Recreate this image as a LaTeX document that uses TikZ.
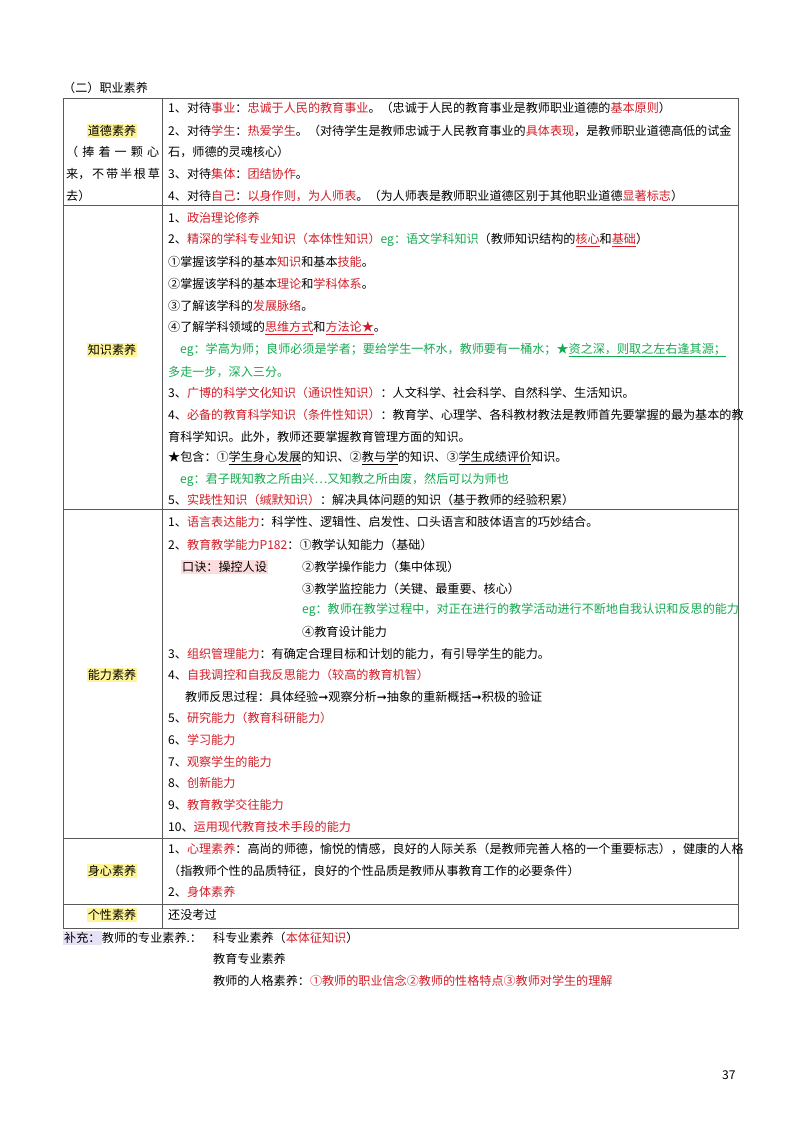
\documentclass[tikz,border=0pt]{standalone}
\usepackage{fontspec}
\setmainfont{Noto Sans CJK SC}
\newfontfamily\symfont{DejaVu Sans}
\usepackage{xcolor}
\definecolor{myred}{RGB}{210,30,40}
\definecolor{mygreen}{RGB}{20,170,80}
\definecolor{hlyellow}{RGB}{255,245,150}
\definecolor{hlpink}{RGB}{252,220,220}
\definecolor{hllav}{RGB}{230,225,245}
\newcommand{\rd}[1]{\textcolor{myred}{#1}}
\newcommand{\gr}[1]{\textcolor{mygreen}{#1}}
\newcommand{\ul}[1]{\underline{#1}}
\newcommand{\arr}{{\symfont ➞}}

\tikzset{
  ln/.style={anchor=west, inner sep=0pt},
  cat/.style={inner sep=1pt, fill=hlyellow},
}

\begin{document}
\begin{tikzpicture}[x=1pt, y=-1pt, font=\fontsize{12.1}{15}\selectfont]
  \useasboundingbox (0,0) rectangle (800,1130);
  \fill[white] (0,0) rectangle (800,1130);

  \node[ln] (title) at (63,88) {（二）职业素养};

  % table frame
  \draw[gray!70!black, line width=0.8pt] (63,98) rectangle (738,928);
  \draw[gray!70!black, line width=0.6pt] (162,98) -- (162,928);
  \draw[gray!70!black, line width=0.6pt] (63,205) -- (738,205);
  \draw[gray!70!black, line width=0.6pt] (63,509) -- (738,509);
  \draw[gray!70!black, line width=0.6pt] (63,838) -- (738,838);
  \draw[gray!70!black, line width=0.6pt] (63,904) -- (738,904);

  % left column
  \node[cat] (moral) at (112,131) {道德素养};
  \node[ln] (m1) at (66,152) {\makebox[93pt][s]{（ 捧 着 一 颗 心}};
  \node[ln] (m2) at (66,174) {\makebox[93pt][s]{来， 不 带 半 根 草}};
  \node[ln] (m3) at (66,196) {去）};
  \node[cat] (know) at (112,350) {知识素养};
  \node[cat] (abil) at (112,675) {能力素养};
  \node[cat] (body) at (112,871) {身心素养};
  \node[cat] (pers) at (112,915) {个性素养};

  % row 1
  \node[ln] (a1) at (168,108) {1、对待\rd{事业}：\rd{忠诚于人民的教育事业}。（忠诚于人民的教育事业是教师职业道德的\rd{基本原则}）};
  \node[ln] (a2) at (168,131) {2、对待\rd{学生}：\rd{热爱学生}。（对待学生是教师忠诚于人民教育事业的\rd{具体表现}，是教师职业道德高低的试金};
  \node[ln] (a3) at (168,152) {石，师德的灵魂核心）};
  \node[ln] (a4) at (168,174) {3、对待\rd{集体}：\rd{团结协作}。};
  \node[ln] (a5) at (168,196) {4、对待\rd{自己}：\rd{以身作则，为人师表}。（为人师表是教师职业道德区别于其他职业道德\rd{显著标志}）};

  % row 2
  \node[ln] (b1) at (168,218) {1、\rd{政治理论修养}};
  \node[ln] (b2) at (168,240) {2、\rd{精深的学科专业知识（本体性知识）}\gr{eg：语文学科知识}（教师知识结构的\rd{\ul{核心}}和\rd{\ul{基础}}）};
  \node[ln] (b3) at (168,262) {①掌握该学科的基本\rd{知识}和基本\rd{技能}。};
  \node[ln] (b4) at (168,284) {②掌握该学科的基本\rd{理论}和\rd{学科体系}。};
  \node[ln] (b5) at (168,306) {③了解该学科的\rd{发展脉络}。};
  \node[ln] (b6) at (168,328) {④了解学科领域的\rd{\ul{思维方式}}和\rd{\ul{方法论★}}。};
  \node[ln] (b7) at (180,350) {\gr{eg：学高为师；良师必须是学者；要给学生一杯水，教师要有一桶水；★\ul{资之深，则取之左右逢其源；}}};
  \node[ln] (b8) at (168,372) {\gr{多走一步，深入三分。}};
  \node[ln] (b9) at (168,393) {3、\rd{广博的科学文化知识（通识性知识）}：人文科学、社会科学、自然科学、生活知识。};
  \node[ln] (b10) at (168,415) {4、\rd{必备的教育科学知识（条件性知识）}：教育学、心理学、各科教材教法是教师首先要掌握的最为基本的教};
  \node[ln] (b11) at (168,437) {育科学知识。此外，教师还要掌握教育管理方面的知识。};
  \node[ln] (b12) at (168,458) {★包含：①\ul{学生身心发展}的知识、②\ul{教与学}的知识、③\ul{学生成绩评价}知识。};
  \node[ln] (b13) at (180,480) {\gr{eg：君子既知教之所由兴…又知教之所由废，然后可以为师也}};
  \node[ln] (b14) at (168,500) {5、\rd{实践性知识（缄默知识）}：解决具体问题的知识（基于教师的经验积累）};

  % row 3
  \node[ln] (c1) at (168,522) {1、\rd{语言表达能力}：科学性、逻辑性、启发性、口头语言和肢体语言的巧妙结合。};
  \node[ln] (c2) at (168,545) {2、\rd{教育教学能力P182}：①教学认知能力（基础）};
  \node[ln, fill=hlpink, inner sep=1pt] (c3k) at (181,567) {口诀：操控人设};
  \node[ln] (c3) at (302,567) {②教学操作能力（集中体现）};
  \node[ln] (c4) at (302,589) {③教学监控能力（关键、最重要、核心）};
  \node[ln] (c5) at (302,610) {\gr{eg：教师在教学过程中，对正在进行的教学活动进行不断地自我认识和反思的能力}};
  \node[ln] (c6) at (302,632) {④教育设计能力};
  \node[ln] (c7) at (168,654) {3、\rd{组织管理能力}：有确定合理目标和计划的能力，有引导学生的能力。};
  \node[ln] (c8) at (168,675) {4、\rd{自我调控和自我反思能力（较高的教育机智）}};
  \node[ln] (c9) at (185,697) {教师反思过程：具体经验\arr 观察分析\arr 抽象的重新概括\arr 积极的验证};
  \node[ln] (c10) at (168,718) {5、\rd{研究能力（教育科研能力）}};
  \node[ln] (c11) at (168,740) {6、\rd{学习能力}};
  \node[ln] (c12) at (168,762) {7、\rd{观察学生的能力}};
  \node[ln] (c13) at (168,783) {8、\rd{创新能力}};
  \node[ln] (c14) at (168,805) {9、\rd{教育教学交往能力}};
  \node[ln] (c15) at (168,827) {10、\rd{运用现代教育技术手段的能力}};

  % row 4 and 5
  \node[ln] (d1) at (168,849) {1、\rd{心理素养}：高尚的师德，愉悦的情感，良好的人际关系（是教师完善人格的一个重要标志），健康的人格};
  \node[ln] (d2) at (168,871) {（指教师个性的品质特征，良好的个性品质是教师从事教育工作的必要条件）};
  \node[ln] (d3) at (168,892) {2、\rd{身体素养}};
  \node[ln] (e1) at (168,915) {还没考过};

  % supplement
  \node[ln, fill=hllav, inner sep=1pt] (s0) at (63,938) {补充：};
  \node[ln] (s1) at (s0.east) {教师的专业素养.：};
  \node[ln] (s2) at (213,938) {科专业素养（\rd{本体征知识}）};
  \node[ln] (s3) at (213,959) {教育专业素养};
  \node[ln] (s4) at (213,981) {教师的人格素养：\rd{①教师的职业信念②教师的性格特点③教师对学生的理解}};

  \node[ln] (page) at (722,1075) {37};
\end{tikzpicture}
\end{document}
